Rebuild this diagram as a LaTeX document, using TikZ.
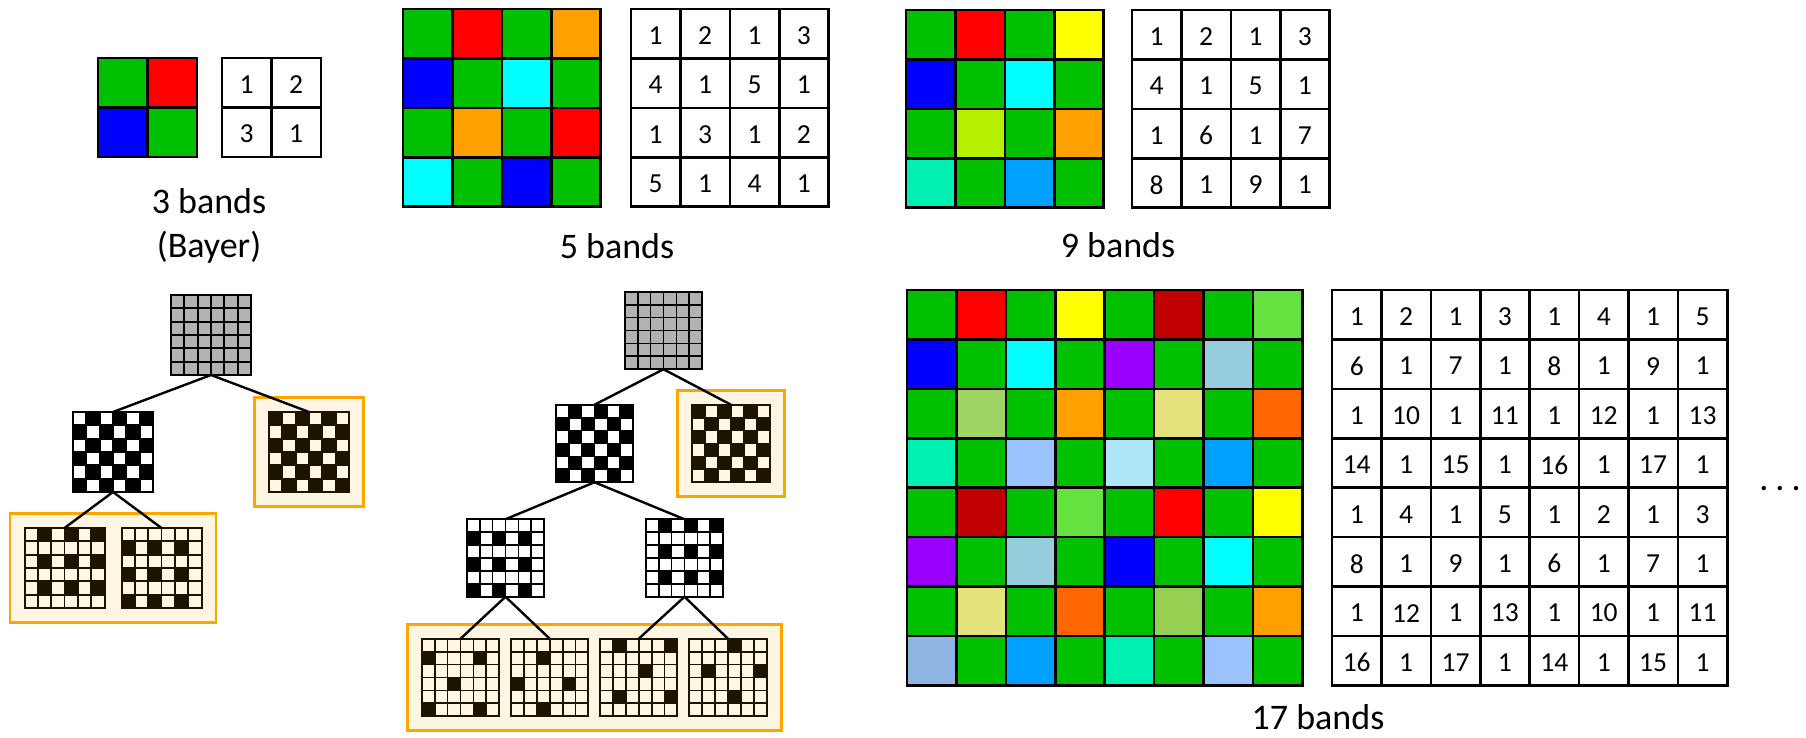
\documentclass[tikz,border=0pt]{standalone}
\usepackage{fontspec}
\setmainfont{Carlito}
\usetikzlibrary{fit,backgrounds,calc}
\definecolor{cG}{RGB}{0,192,0}
\definecolor{cR}{RGB}{255,0,0}
\definecolor{cO}{RGB}{255,160,0}
\definecolor{cB}{RGB}{0,0,255}
\definecolor{cC}{RGB}{0,255,255}
\definecolor{cY}{RGB}{255,255,0}
\definecolor{cYG}{RGB}{180,240,0}
\definecolor{cTG}{RGB}{0,240,180}
\definecolor{cSB}{RGB}{0,160,255}
\definecolor{cDR}{RGB}{192,0,0}
\definecolor{cLG}{RGB}{102,226,64}
\definecolor{cP}{RGB}{153,0,255}
\definecolor{cBG}{RGB}{150,205,220}
\definecolor{cPG}{RGB}{160,212,100}
\definecolor{cPGb}{RGB}{150,208,82}
\definecolor{cPY}{RGB}{228,226,122}
\definecolor{cOR}{RGB}{255,102,0}
\definecolor{cPW}{RGB}{153,194,255}
\definecolor{cLC}{RGB}{173,230,247}
\definecolor{cSL}{RGB}{142,180,226}
\definecolor{hlOrange}{RGB}{255,165,0}
\definecolor{hlCream}{RGB}{255,245,227}
\definecolor{hDark}{RGB}{28,20,0}
\definecolor{hLight}{RGB}{255,246,228}
\definecolor{gGray}{RGB}{178,178,178}
\tikzset{
  gridbox/.style={inner sep=0pt, outer sep=0pt, draw=none},
  hlbox/.style={draw=hlOrange, fill=hlCream, line width=2.7pt, inner sep=14.5pt},
  conn/.style={line width=2.4pt, black},
  lbl/.style={font=\fontsize{36}{43}\selectfont, inner sep=0pt, anchor=base},
  numtxt/.style={font=\fontsize{27.5}{33}\selectfont, inner sep=0pt, anchor=center, yshift=-2pt},
  tline/.style={line width=2.6pt, black},
}
\newcommand\cellw{49.4}
% name, cx, cy, size, dark, light, linecolor, condition
\newcommand\patgrid[8]{%
  \node[gridbox, minimum size=#4pt] (#1) at (#2,#3) {};
  \pgfmathsetmacro\pcell{#4/6}
  \begin{scope}[shift={(#1.north west)}]
    \fill[#6] (0,0) rectangle (#4,#4);
    \foreach \ri in {0,...,5}{\foreach \ci in {0,...,5}{
      \pgfmathtruncatemacro\isdark{#8}
      \ifnum\isdark=1 \fill[#5] (\ci*\pcell,\ri*\pcell) rectangle ++(\pcell,\pcell);\fi
    }}
    \foreach \k in {1,...,5}{
      \draw[#7, line width=1.8pt] (\k*\pcell,0) -- (\k*\pcell,#4);
      \draw[#7, line width=1.8pt] (0,\k*\pcell) -- (#4,\k*\pcell);
    }
    \draw[#7, line width=2pt] (0,0) rectangle (#4,#4);
  \end{scope}
}
% name, left, top, n, colour list
\newcommand\colgrid[5]{%
  \node[gridbox, minimum size=#4*\cellw pt, anchor=north west] (#1) at (#2,#3) {};
  \begin{scope}[shift={(#1.north west)}]
    \foreach \cl [count=\i from 0] in {#5}{
      \pgfmathtruncatemacro\ri{int(\i/#4)}
      \pgfmathtruncatemacro\ci{mod(\i,#4)}
      \fill[\cl] (\ci*\cellw,\ri*\cellw) rectangle ++(\cellw,\cellw);
    }
    \foreach \k in {0,...,#4}{
      \draw[tline] (\k*\cellw,0) -- (\k*\cellw,#4*\cellw);
      \draw[tline] (0,\k*\cellw) -- (#4*\cellw,\k*\cellw);
    }
    \draw[tline] (0,0) rectangle (#4*\cellw,#4*\cellw);
  \end{scope}
}
% name, left, top, n, number list
\newcommand\numgrid[5]{%
  \node[gridbox, minimum size=#4*\cellw pt, anchor=north west] (#1) at (#2,#3) {};
  \begin{scope}[shift={(#1.north west)}]
    \fill[white] (0,0) rectangle (#4*\cellw,#4*\cellw);
    \foreach \v [count=\i from 0] in {#5}{
      \pgfmathtruncatemacro\ri{int(\i/#4)}
      \pgfmathtruncatemacro\ci{mod(\i,#4)}
      \node[numtxt] (#1-\i) at (\ci*\cellw+\cellw/2,\ri*\cellw+\cellw/2) {\v};
    }
    \foreach \k in {0,...,#4}{
      \draw[tline] (\k*\cellw,0) -- (\k*\cellw,#4*\cellw);
      \draw[tline] (0,\k*\cellw) -- (#4*\cellw,\k*\cellw);
    }
    \draw[tline] (0,0) rectangle (#4*\cellw,#4*\cellw);
  \end{scope}
}
\begin{document}
\begin{tikzpicture}[x=1pt,y=-1pt]
\useasboundingbox (0,0) rectangle (1806,737);
\begin{scope}[on background layer]
  \fill[white] (0,0) rectangle (1806,737);
\end{scope}

% ---------- top row ----------
\colgrid{c3}{98}{58}{2}{cG,cR,cB,cG}
\numgrid{n3}{222}{58}{2}{1,2,3,1}
\node[lbl] (l3) at (209,213) {3 bands};
\node[lbl] (l3b) at (209,257) {(Bayer)};

\colgrid{c5}{403}{9}{4}{cG,cR,cG,cO, cB,cG,cC,cG, cG,cO,cG,cR, cC,cG,cB,cG}
\numgrid{n5}{631}{9}{4}{1,2,1,3, 4,1,5,1, 1,3,1,2, 5,1,4,1}
\node[lbl] (l5) at (617,258) {5 bands};

\colgrid{c9}{906}{10}{4}{cG,cR,cG,cY, cB,cG,cC,cG, cG,cYG,cG,cO, cTG,cG,cSB,cG}
\numgrid{n9}{1132}{10}{4}{1,2,1,3, 4,1,5,1, 1,6,1,7, 8,1,9,1}
\node[lbl] (l9) at (1118,257) {9 bands};

% ---------- 17 bands ----------
\colgrid{c17}{907}{290}{8}{cG,cR,cG,cY,cG,cDR,cG,cLG,
 cB,cG,cC,cG,cP,cG,cBG,cG,
 cG,cPG,cG,cO,cG,cPY,cG,cOR,
 cTG,cG,cPW,cG,cLC,cG,cSB,cG,
 cG,cDR,cG,cLG,cG,cR,cG,cY,
 cP,cG,cBG,cG,cB,cG,cC,cG,
 cG,cPY,cG,cOR,cG,cPGb,cG,cO,
 cSL,cG,cSB,cG,cTG,cG,cPW,cG}
\numgrid{n17}{1332}{290}{8}{1,2,1,3,1,4,1,5,
 6,1,7,1,8,1,9,1,
 1,10,1,11,1,12,1,13,
 14,1,15,1,16,1,17,1,
 1,4,1,5,1,2,1,3,
 8,1,9,1,6,1,7,1,
 1,12,1,13,1,10,1,11,
 16,1,17,1,14,1,15,1}
\node[lbl] (l17) at (1318,729) {17 bands};
\node[lbl] (dots) at (1780,490) {.\kern7pt.\kern7pt.};

% ---------- tree 1 ----------
\patgrid{Ta}{211}{335}{80}{gGray}{gGray}{black}{1}
\patgrid{Tb}{113}{452}{80}{black}{white}{black}{mod(\ri+\ci,2)==1}
\patgrid{Tc}{309}{452}{80}{hDark}{hLight}{hDark}{mod(\ri+\ci,2)==0}
\patgrid{Td}{64.5}{568}{80}{hDark}{hLight}{hDark}{(mod(\ri,2)==0)&&(mod(\ci,2)==1)}
\patgrid{Te}{161.5}{568}{80}{hDark}{hLight}{hDark}{(mod(\ri,2)==1)&&(mod(\ci,2)==0)}
\begin{scope}[on background layer]
  \node[hlbox, fit=(Tc)] (hb1) {};
  \node[hlbox, fit=(Td)(Te)] (hb2) {};
\end{scope}
\draw[conn] (Ta.south) -- (Tb.north);
\draw[conn] (Ta.south) -- (Tc.north);
\draw[conn] (Tb.south) -- (Td.north);
\draw[conn] (Tb.south) -- (Te.north);

% ---------- tree 2 ----------
\patgrid{Ua}{663.5}{330.5}{77.5}{gGray}{gGray}{black}{1}
\patgrid{Ub}{594.5}{443.5}{77.5}{black}{white}{black}{mod(\ri+\ci,2)==1}
\patgrid{Uc}{731}{443.5}{77.5}{hDark}{hLight}{hDark}{mod(\ri+\ci,2)==0}
\patgrid{Ud}{505.5}{558}{77.5}{black}{white}{black}{(mod(\ri,2)==1)&&(mod(\ci,2)==0)}
\patgrid{Ue}{684.5}{558}{77.5}{black}{white}{black}{(mod(\ri,2)==0)&&(mod(\ci,2)==1)}
\patgrid{Uf}{460.5}{677.5}{77.5}{hDark}{hLight}{hDark}{(mod(\ri,2)==1)&&(mod(\ci,2)==0)&&(mod(int((\ri-1)/2)+int(\ci/2),2)==0)}
\patgrid{Ug}{549.7}{677.5}{77.5}{hDark}{hLight}{hDark}{(mod(\ri,2)==1)&&(mod(\ci,2)==0)&&(mod(int((\ri-1)/2)+int(\ci/2),2)==1)}
\patgrid{Uh}{638.7}{677.5}{77.5}{hDark}{hLight}{hDark}{(mod(\ri,2)==0)&&(mod(\ci,2)==1)&&(mod(int(\ri/2)+int((\ci-1)/2),2)==0)}
\patgrid{Ui}{728}{677.5}{77.5}{hDark}{hLight}{hDark}{(mod(\ri,2)==0)&&(mod(\ci,2)==1)&&(mod(int(\ri/2)+int((\ci-1)/2),2)==1)}
\begin{scope}[on background layer]
  \node[hlbox, fit=(Uc)] (hb3) {};
  \node[hlbox, fit=(Uf)(Ui)] (hb4) {};
\end{scope}
\draw[conn] (Ua.south) -- (Ub.north);
\draw[conn] (Ua.south) -- (Uc.north);
\draw[conn] (Ub.south) -- (Ud.north);
\draw[conn] (Ub.south) -- (Ue.north);
\draw[conn] (Ud.south) -- (Uf.north);
\draw[conn] (Ud.south) -- (Ug.north);
\draw[conn] (Ue.south) -- (Uh.north);
\draw[conn] (Ue.south) -- (Ui.north);
\end{tikzpicture}
\end{document}
